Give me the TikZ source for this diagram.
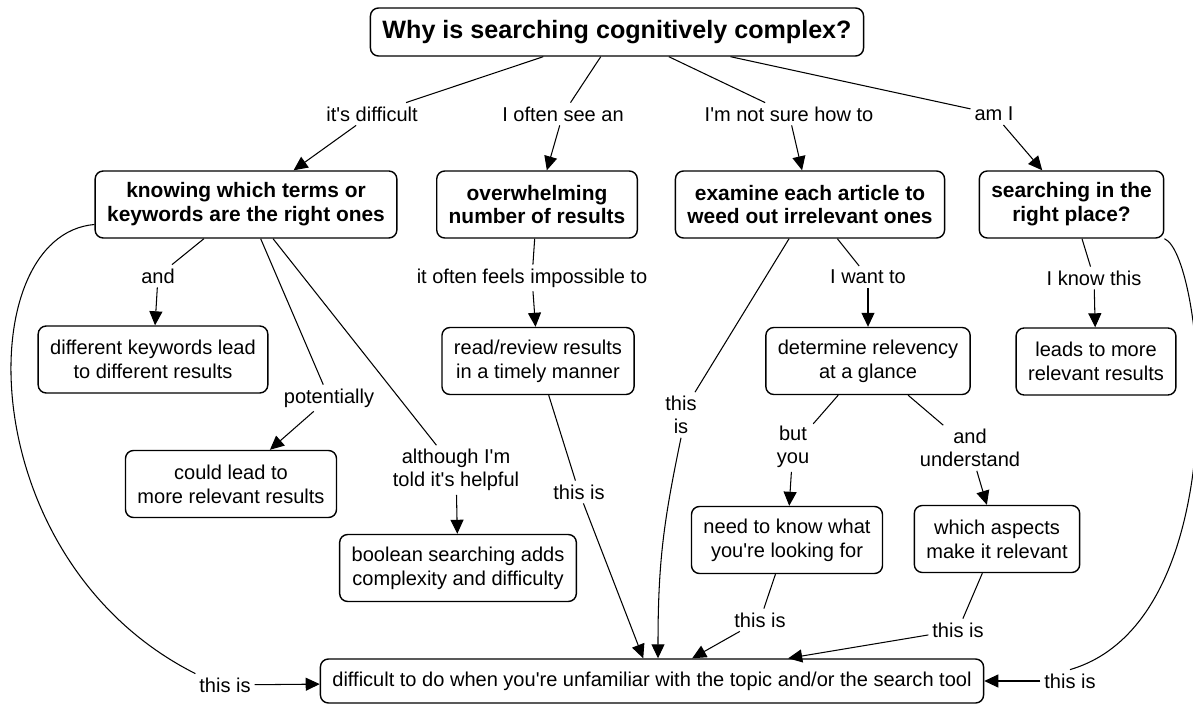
\documentclass[tikz,border=0pt]{standalone}
\usepackage{fontspec}
\setmainfont{Liberation Sans}
\usetikzlibrary{arrows.meta}
\newcommand{\ap}{\textquotesingle}
\tikzset{
  concept/.style={draw, rounded corners=0.16cm, line width=0.8pt, align=center, inner xsep=0.24cm, inner ysep=0.1cm, minimum height=1.34cm, font=\fontsize{11.4}{13.6}\selectfont},
  keyconcept/.style={concept, font=\fontsize{11.9}{13.6}\selectfont\bfseries},
  linkword/.style={align=center, inner sep=2pt, font=\fontsize{11.4}{13}\selectfont},
  link/.style={-{Triangle[length=0.28cm,width=0.26cm]}},
}
\begin{document}
\begin{tikzpicture}[x=0.02cm, y=-0.02cm, line width=0.6pt, line join=round]
  \useasboundingbox (0,0) rectangle (1193,705);
  % concepts
  \node[keyconcept, minimum height=0.96cm, font=\fontsize{14.3}{16}\selectfont\bfseries] (why) at (617,32) {Why is searching cognitively complex?};
  \node[keyconcept] (know) at (246,204.5) {knowing which terms or\\keywords are the right ones};
  \node[keyconcept] (over) at (537,204.5) {overwhelming\\number of results};
  \node[keyconcept] (exam) at (810,204.5) {examine each article to\\weed out irrelevant ones};
  \node[keyconcept] (place) at (1071.5,204.5) {searching in the\\right place?};
  \node[concept] (diff) at (153,359.5) {different keywords lead\\to different results};
  \node[concept] (could) at (231,484) {could lead to\\more relevant results};
  \node[concept] (bool) at (458,568) {boolean searching adds\\complexity and difficulty};
  \node[concept] (read) at (538,361) {read/review results\\in a timely manner};
  \node[concept] (rel) at (868,361) {determine relevency\\at a glance};
  \node[concept] (more) at (1096,361.5) {leads to more\\relevant results};
  \node[concept] (need) at (787,540) {need to know what\\you\ap re looking for};
  \node[concept] (aspect) at (997,539) {which aspects\\make it relevant};
  \node[concept, minimum height=0.88cm] (hard) at (652,681) {difficult to do when you\ap re unfamiliar with the topic and/or the search tool};
  % linking words
  \node[linkword] (l1) at (372,114) {it\ap s difficult};
  \node[linkword] (l2) at (563,114) {I often see an};
  \node[linkword] (l3) at (789,114) {I\ap m not sure how to};
  \node[linkword] (l4) at (994,114) {am I};
  \node[linkword] (l5) at (158,276) {and};
  \node[linkword] (l6) at (329,398) {potentially};
  \node[linkword] (l7) at (456,470) {although I\ap m\\told it\ap s helpful};
  \node[linkword] (l8) at (532,278) {it often feels impossible to};
  \node[linkword] (l9) at (868,277) {I want to};
  \node[linkword] (l10) at (1094,278) {I know this};
  \node[linkword] (l11) at (681,415) {this\\is};
  \node[linkword] (l12) at (579,492) {this is};
  \node[linkword] (l13) at (793,447) {but\\you};
  \node[linkword] (l14) at (970,448) {and\\understand};
  \node[linkword] (l15) at (760,620) {this is};
  \node[linkword] (l16) at (958,630) {this is};
  \node[linkword] (l17) at (225,685) {this is};
  \node[linkword] (l18) at (1070,681) {this is};
  % connectors
  \draw (why)--(l1) (why)--(l2) (why)--(l3) (why)--(l4)
    (know)--(l5) (know)--(l6) (know)--(l7) (over)--(l8)
    (exam)--(l9) (exam)--(l11) (place)--(l10) (read)--(l12)
    (rel)--(l13) (rel)--(l14) (need)--(l15) (aspect)--(l16);
  \draw ([yshift=-0.4cm]know.west) .. controls (-30,235) and (-30,560) .. (l17.north west);
  \draw (place.south east) .. controls (1205,255) and (1240,620) .. (l18.north);
  \draw[link] (l1)--(know); \draw[link] (l2)--(over);
  \draw[link] (l3)--(exam); \draw[link] (l4)--(place);
  \draw[link] (l5)--(diff); \draw[link] (l6)--(could);
  \draw[link] (l7)--(bool); \draw[link] (l8)--(read);
  \draw[link] (l9)--(rel); \draw[link] (l10)--(more);
  \draw[link] (l13)--(need); \draw[link] (l14)--(aspect);
  \draw[link] (l11.south) .. controls (664,520) and (658,560) .. ([xshift=0.12cm]hard.north);
  \draw[link] (l12)--(hard);
  \draw[link] (l15)--(hard); \draw[link] (l16)--(hard);
  \draw[link] (l17)--(hard); \draw[link] (l18)--(hard);
\end{tikzpicture}
\end{document}
